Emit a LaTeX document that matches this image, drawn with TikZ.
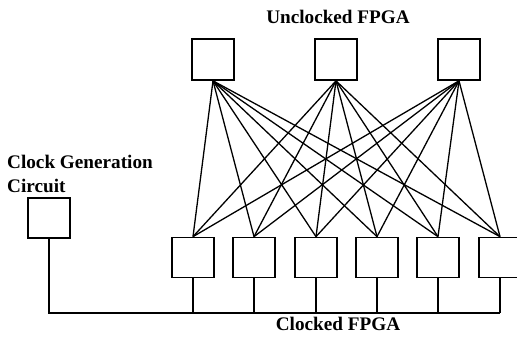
\documentclass[tikz,border=0pt]{standalone}
\usepackage{fontspec}
\setmainfont{Liberation Serif}
\begin{document}
\begin{tikzpicture}[x=1pt,y=-1pt,
  fpga/.style={draw,line width=1.7pt,minimum width=42pt,minimum height=40pt,inner sep=0pt},
  wire/.style={line width=1.3pt},
  lbl/.style={font=\fontsize{19.2}{22}\selectfont\bfseries,inner sep=0pt}]
\useasboundingbox (0,0) rectangle (517,338);
% unclocked FPGAs on top
\node[fpga,minimum height=41pt] (u1) at (213,59.5) {};
\node[fpga,minimum height=41pt] (u2) at (336,59.5) {};
\node[fpga,minimum height=41pt] (u3) at (459,59.5) {};
% clocked FPGAs on the bottom row
\foreach \i/\x in {1/193,2/254,3/316,4/377,5/438,6/500}
  \node[fpga] (c\i) at (\x,257.5) {};
% clock generator
\node[fpga] (clk) at (49,218) {};
% full crossbar between the two rows
\foreach \u in {1,2,3}
  \foreach \c in {1,...,6}
    \draw[wire] (u\u.south) -- (c\c.north);
% clock distribution bus
\coordinate (busend) at (500,313);
\draw[wire] (clk.south) |- (busend);
\foreach \c in {1,...,6}
  \draw[wire] (c\c.south) -- (c\c.south |- busend);
% labels
\node[lbl,anchor=base] (tu) at (338,23) {Unclocked FPGA};
\node[lbl,anchor=base west] (tk1) at (7,168) {Clock Generation};
\node[lbl,anchor=base west] (tk2) at (7,192) {Circuit};
\node[lbl,anchor=base] (tc) at (338,330) {Clocked FPGA};
\end{tikzpicture}
\end{document}
